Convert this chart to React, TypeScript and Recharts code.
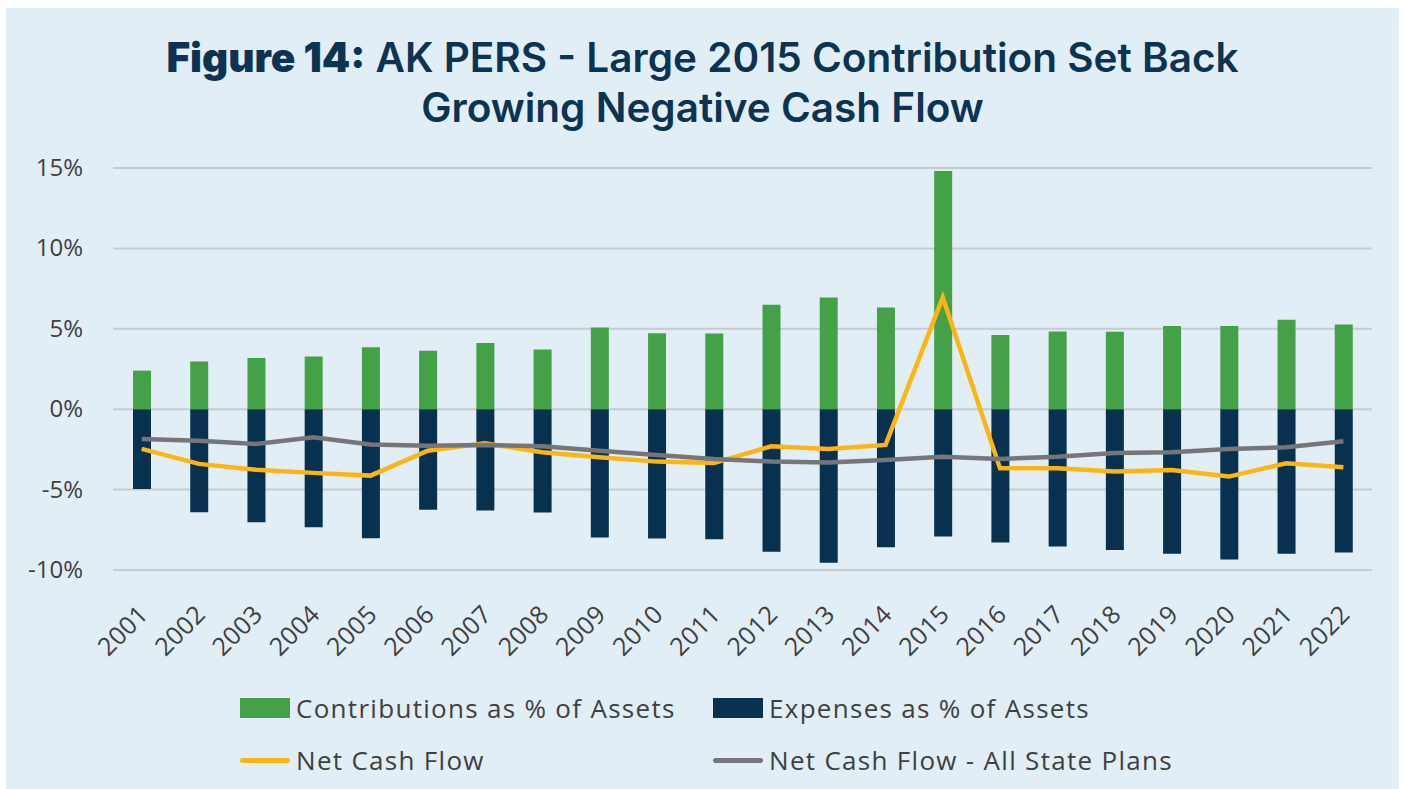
import React from 'react';
import { ComposedChart, Bar, Line, XAxis, YAxis, CartesianGrid } from 'recharts';

const years = ['2001','2002','2003','2004','2005','2006','2007','2008','2009','2010','2011','2012','2013','2014','2015','2016','2017','2018','2019','2020','2021','2022'];
const contributions = [2.4, 2.97, 3.18, 3.28, 3.86, 3.63, 4.11, 3.71, 5.08, 4.73, 4.71, 6.49, 6.95, 6.32, 14.81, 4.61, 4.83, 4.81, 5.17, 5.17, 5.56, 5.27];
const expenses = [-4.96, -6.41, -7.03, -7.34, -8.02, -6.26, -6.3, -6.43, -7.98, -8.04, -8.09, -8.87, -9.55, -8.58, -7.92, -8.29, -8.54, -8.75, -8.99, -9.35, -8.99, -8.91];
const netCashFlow = [-2.47, -3.4, -3.76, -3.96, -4.13, -2.58, -2.12, -2.68, -2.99, -3.26, -3.35, -2.31, -2.47, -2.22, 6.95, -3.68, -3.68, -3.88, -3.78, -4.19, -3.36, -3.61];
const netCashFlowAll = [-1.85, -1.96, -2.16, -1.75, -2.2, -2.27, -2.22, -2.31, -2.58, -2.85, -3.09, -3.25, -3.32, -3.16, -2.95, -3.09, -2.95, -2.72, -2.68, -2.47, -2.37, -2.0];
const yTicks = [-10, -5, 0, 5, 10, 15];

const data = years.map((y, i) => ({
  year: y,
  contributions: contributions[i],
  expenses: expenses[i],
  net: netCashFlow[i],
  netAll: netCashFlowAll[i],
}));

const FONT = '"Open Sans", sans-serif';
const TITLE_FONT = 'Inter, sans-serif';
const TEXT = '#404040';
const GREEN = '#44a147';
const NAVY = '#08304f';
const YELLOW = '#fcb514';
const GRAY = '#75767a';

const XTick = (props: any) => {
  const { x, y, payload } = props;
  return (
    <g transform={`translate(${x + 8},${y + 38})`}>
      <text x={0} y={0} textAnchor="end" transform="rotate(-45)" fill={TEXT} fontSize={25} fontFamily={FONT} letterSpacing={0.3}>
        {payload.value}
      </text>
    </g>
  );
};

const YTick = (props: any) => {
  const { y, payload } = props;
  return (
    <text x={77} y={y} dy={8} textAnchor="end" fill={TEXT} fontSize={24} fontFamily={FONT}>
      {`${payload.value}%`}
    </text>
  );
};

const LegendItem = ({ kind, color, label, left, top }: any) => (
  <div style={{ position: 'absolute', left, top, display: 'flex', alignItems: 'center', height: 26 }}>
    <div
      style={{
        width: 50,
        height: kind === 'rect' ? 20 : 5,
        background: color,
        borderRadius: kind === 'rect' ? 0 : 3,
        marginRight: 6,
      }}
    />
    <span style={{ fontFamily: FONT, fontSize: 26, letterSpacing: 1.3, color: TEXT, whiteSpace: 'nowrap' }}>{label}</span>
  </div>
);

const titleLine: React.CSSProperties = {
  position: 'absolute',
  left: 0,
  width: 1393,
  textAlign: 'center',
  fontFamily: TITLE_FONT,
  color: '#0d3352',
  fontSize: 40.5,
  fontWeight: 600,
  lineHeight: '48px',
  whiteSpace: 'nowrap',
};

export default function App() {
  return (
    <div style={{ position: 'absolute', left: 6, top: 8, width: 1393, height: 781, background: '#e1eef5', overflow: 'hidden' }}>
      <div style={{ ...titleLine, top: 26 }}>
        <span style={{ fontWeight: 900 }}>Figure 14:</span> AK PERS - Large 2015 Contribution Set Back
      </div>
      <div style={{ ...titleLine, top: 76 }}>Growing Negative Cash Flow</div>
      <div style={{ position: 'absolute', left: 0, top: 0 }}>
        <ComposedChart
          width={1393}
          height={700}
          data={data}
          stackOffset="sign"
          margin={{ top: 160, right: 27, bottom: 50, left: 27 }}
        >
          <CartesianGrid vertical={false} stroke="#c6cbd0" strokeWidth={2} />
          <XAxis dataKey="year" axisLine={false} tickLine={false} tick={<XTick />} interval={0} height={88} />
          <YAxis domain={[-10, 15]} ticks={yTicks} axisLine={false} tickLine={false} tick={<YTick />} width={80} />
          <Bar dataKey="contributions" stackId="a" fill={GREEN} barSize={18} isAnimationActive={false} />
          <Bar dataKey="expenses" stackId="a" fill={NAVY} barSize={18} isAnimationActive={false} />
          <Line dataKey="net" stroke={YELLOW} strokeWidth={4.5} dot={false} type="linear" isAnimationActive={false} />
          <Line dataKey="netAll" stroke={GRAY} strokeWidth={4.5} dot={false} type="linear" isAnimationActive={false} />
        </ComposedChart>
      </div>
      <LegendItem kind="rect" color={GREEN} label="Contributions as % of Assets" left={234} top={687} />
      <LegendItem kind="rect" color={NAVY} label="Expenses as % of Assets" left={707} top={687} />
      <LegendItem kind="line" color={YELLOW} label="Net Cash Flow" left={234} top={739} />
      <LegendItem kind="line" color={GRAY} label="Net Cash Flow - All State Plans" left={707} top={739} />
    </div>
  );
}
